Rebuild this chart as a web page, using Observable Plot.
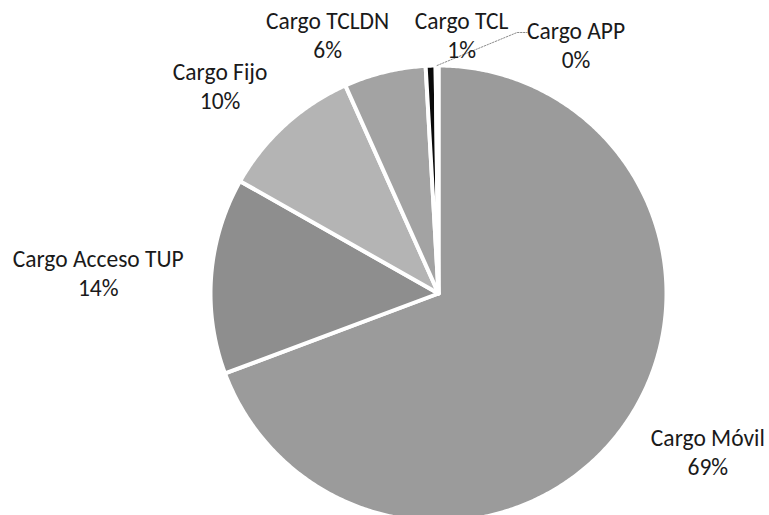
<!DOCTYPE html>
<html>
<head>
<meta charset="utf-8">
<script src="https://cdn.jsdelivr.net/npm/d3@7"></script>
<script src="https://cdn.jsdelivr.net/npm/@observablehq/plot@0.6"></script>
<style>
  html, body { margin: 0; padding: 0; background: white; overflow: hidden; }
  #chart { width: 769px; height: 515px; }
</style>
</head>
<body>
<div id="chart"></div>
<script>
// ---- data ----
const categories = ["Cargo Móvil", "Cargo Acceso TUP", "Cargo Fijo", "Cargo TCLDN", "Cargo TCL", "Cargo APP"];
const values = [69.3, 13.9, 10.1, 5.8, 0.7, 0.2];
const sliceColors = ["#9b9b9b", "#8e8e8e", "#b4b4b4", "#a3a3a3", "#0a0a0a", "#555555"];

// ---- layout (pixels) ----
const W = 769, H = 515;
const cx = 438, cy = 293, R = 228;
// label nudges (px) relative to each slice's outer mid-point
const labelNudge = [[82, 28], [-113, -3], [-65, -40], [-57, -38], [31, -31], [139, -21]];
// leader line for the last (tiny) slice: knee and end relative to its label centre (px)
const leaderKnee = [-59, -12], leaderEnd = [-49, -12];

const total = d3.sum(values);
const arcs = d3.pie().sort(null).value(d => d)(values);

// polygons for slices in unit-radius data space (y up)
const pts = [];
arcs.forEach((a, i) => {
  const name = categories[i];
  pts.push({name, x: 0, y: 0});
  const n = Math.max(2, Math.ceil((a.endAngle - a.startAngle) / (Math.PI / 360)));
  for (let k = 0; k <= n; k++) {
    const t = a.startAngle + (a.endAngle - a.startAngle) * k / n;
    pts.push({name, x: Math.sin(t), y: Math.cos(t)});
  }
  pts.push({name, x: 0, y: 0});
});

const labels = arcs.map((a, i) => {
  const m = (a.startAngle + a.endAngle) / 2;
  return {
    text: `${categories[i]}\n${Math.round(values[i] / total * 100)}%`,
    x: Math.sin(m) + labelNudge[i][0] / R,
    y: Math.cos(m) - labelNudge[i][1] / R,
    ax: Math.sin(m), ay: Math.cos(m)
  };
});

const last = labels[labels.length - 1];
const leader = [
  {x: last.ax, y: last.ay},
  {x: last.x + leaderKnee[0] / R, y: last.y - leaderKnee[1] / R},
  {x: last.x + leaderEnd[0] / R, y: last.y - leaderEnd[1] / R}
];

const plot = Plot.plot({
  width: W,
  height: H,
  marginLeft: cx - R,
  marginRight: W - (cx + R),
  marginTop: cy - R,
  marginBottom: 0,
  x: {domain: [-1, 1], axis: null},
  y: {domain: [-(H - cy) / R, 1], axis: null},
  color: {domain: categories, range: sliceColors},
  style: {fontFamily: "Carlito, Calibri, 'Open Sans', sans-serif", background: "white", overflow: "hidden"},
  marks: [
    Plot.line(pts, {x: "x", y: "y", z: "name", fill: "name", stroke: "white", strokeWidth: 4, strokeLinejoin: "round", curve: "linear"}),
    Plot.line(leader, {x: "x", y: "y", stroke: "#8a8a8a", strokeWidth: 1, strokeDasharray: "1.5,1.5"}),
    Plot.text(labels, {x: "x", y: "y", text: "text", fontSize: 23.5, lineHeight: 1.23, textAnchor: "middle", lineAnchor: "middle", fill: "#1a1a1a"})
  ]
});
document.getElementById("chart").appendChild(plot);
</script>
</body>
</html>
